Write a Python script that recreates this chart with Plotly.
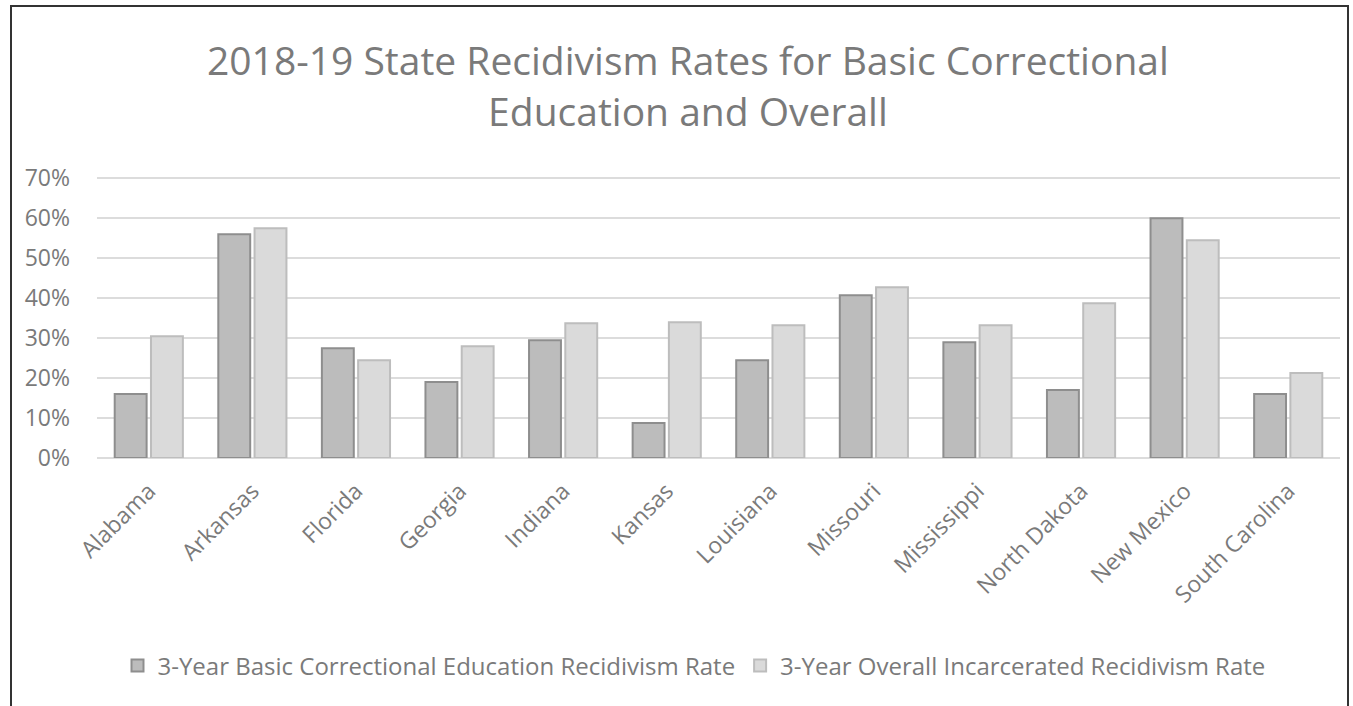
import plotly.graph_objects as go

states = ["Alabama", "Arkansas", "Florida", "Georgia", "Indiana", "Kansas",
          "Louisiana", "Missouri", "Mississippi", "North Dakota", "New Mexico",
          "South Carolina"]
basic_ed_rate = [0.16, 0.56, 0.275, 0.19, 0.295, 0.0875, 0.245, 0.4075,
                 0.29, 0.17, 0.60, 0.16]
overall_rate = [0.305, 0.575, 0.245, 0.28, 0.3375, 0.34, 0.3325, 0.4275,
                0.3325, 0.3875, 0.545, 0.2125]
y_ticks = [0, 0.1, 0.2, 0.3, 0.4, 0.5, 0.6, 0.7]
series_names = ["3-Year Basic Correctional Education Recidivism Rate",
                "3-Year Overall Incarcerated Recidivism Rate"]
title_text = "2018-19 State Recidivism Rates for Basic Correctional<br>Education and Overall"

FONT = "Open Sans"
TXT = "#7a7a7a"

fig = go.Figure()
fig.add_trace(go.Bar(
    x=states, y=basic_ed_rate, name=series_names[0],
    marker=dict(color="#bcbcbc", line=dict(color="#8e8e8e", width=2)),
))
fig.add_trace(go.Bar(
    x=states, y=overall_rate, name=series_names[1],
    marker=dict(color="#dadada", line=dict(color="#bdbdbd", width=2)),
))

YMAX = 0.706
W, H = 1353, 706
L, R = 97, 13
B = H - 458
ph = round(280 * YMAX / 0.7)
T = H - B - ph
pw = W - L - R

def px2x(px):
    return (px - L) / pw

def py2y(py):
    return (H - B - py) / ph

fig.update_layout(
    width=W, height=H,
    margin=dict(l=L, r=R, t=T, b=B),
    paper_bgcolor="white", plot_bgcolor="white",
    font=dict(family=FONT, color=TXT, size=22),
    barmode="group", bargap=0.3, bargroupgap=0.12,
    showlegend=True,
    legend=dict(orientation="h", x=px2x(694), xanchor="center",
                y=py2y(666), yanchor="middle",
                font=dict(family=FONT, size=24, color=TXT),
                itemwidth=30, tracegroupgap=0),
    xaxis=dict(tickangle=-45, showgrid=False, showline=False, ticks="",
               ticklabelstandoff=14,
               tickfont=dict(family=FONT, size=23, color=TXT)),
    yaxis=dict(range=[0, YMAX], tickvals=y_ticks, tickformat=".0%",
               showgrid=True, gridcolor="#dcdcdc", gridwidth=2,
               zeroline=True, zerolinecolor="#dcdcdc", zerolinewidth=2,
               showline=False, ticks="", ticklabelstandoff=26,
               tickfont=dict(family=FONT, size=23, color=TXT)),
    annotations=[
        dict(text=title_text, xref="paper", yref="paper",
             x=px2x(688), y=py2y(31), xanchor="center", yanchor="top",
             showarrow=False, align="center",
             font=dict(family=FONT, size=39, color=TXT)),
    ],
    shapes=[
        dict(type="rect", xref="paper", yref="paper",
             x0=px2x(11), x1=px2x(1348), y0=py2y(760), y1=py2y(6),
             line=dict(color="#333333", width=2), fillcolor="rgba(0,0,0,0)",
             layer="above"),
    ],
)

fig.write_html("out.html")
